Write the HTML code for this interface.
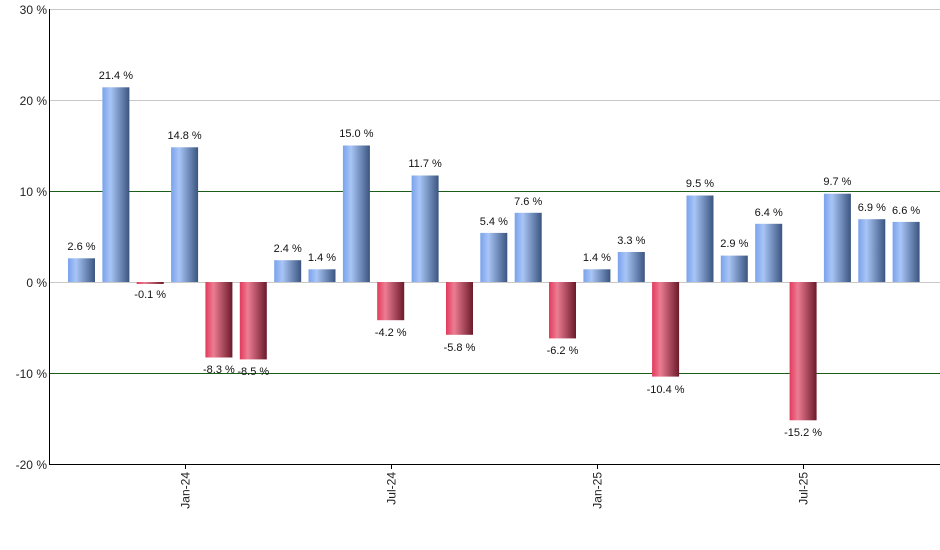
<!DOCTYPE html>
<html><head><style>body{margin:0;background:#fff}svg{display:block;font-family:"Liberation Sans",sans-serif}</style></head><body>
<svg width="940" height="550" viewBox="0 0 940 550" xmlns="http://www.w3.org/2000/svg">
<defs>
<linearGradient id="b" x1="0" x2="1" y1="0" y2="0"><stop offset="0" stop-color="#7aa2ec"/><stop offset="0.3" stop-color="#a8c5f6"/><stop offset="1" stop-color="#3b5580"/></linearGradient>
<linearGradient id="r" x1="0" x2="1" y1="0" y2="0"><stop offset="0" stop-color="#e23a5c"/><stop offset="0.3" stop-color="#ec7d93"/><stop offset="1" stop-color="#6b1a2a"/></linearGradient>
</defs>
<g stroke-width="1">
<line x1="49" x2="940" y1="9.5" y2="9.5" stroke="#c8c8c8"/>
<line x1="49" x2="940" y1="100.5" y2="100.5" stroke="#c8c8c8"/>
<line x1="49" x2="940" y1="191.5" y2="191.5" stroke="#1a5e1a"/>
<line x1="49" x2="940" y1="282.5" y2="282.5" stroke="#c8c8c8"/>
<line x1="49" x2="940" y1="373.5" y2="373.5" stroke="#1a5e1a"/>
</g>
<g font-size="12" fill="#222" text-anchor="end">
<text x="47" y="14">30 %</text><text x="47" y="105">20 %</text><text x="47" y="196">10 %</text><text x="47" y="287">0 %</text><text x="47" y="378">-10 %</text><text x="47" y="469">-20 %</text>
</g>
<g>
<rect x="68" y="258.3" width="27" height="23.7" fill="url(#b)"/>
<rect x="102.4" y="87.3" width="27" height="194.7" fill="url(#b)"/>
<rect x="136.7" y="282" width="27" height="2" fill="url(#r)"/>
<rect x="171.1" y="147.3" width="27" height="134.7" fill="url(#b)"/>
<rect x="205.4" y="282" width="27" height="75.5" fill="url(#r)"/>
<rect x="239.8" y="282" width="27" height="77.4" fill="url(#r)"/>
<rect x="274.2" y="260.2" width="27" height="21.8" fill="url(#b)"/>
<rect x="308.5" y="269.3" width="27" height="12.7" fill="url(#b)"/>
<rect x="342.9" y="145.5" width="27" height="136.5" fill="url(#b)"/>
<rect x="377.2" y="282" width="27" height="38.2" fill="url(#r)"/>
<rect x="411.6" y="175.5" width="27" height="106.5" fill="url(#b)"/>
<rect x="446" y="282" width="27" height="52.8" fill="url(#r)"/>
<rect x="480.3" y="232.9" width="27" height="49.1" fill="url(#b)"/>
<rect x="514.7" y="212.8" width="27" height="69.2" fill="url(#b)"/>
<rect x="549" y="282" width="27" height="56.4" fill="url(#r)"/>
<rect x="583.4" y="269.3" width="27" height="12.7" fill="url(#b)"/>
<rect x="617.8" y="252" width="27" height="30" fill="url(#b)"/>
<rect x="652.1" y="282" width="27" height="94.6" fill="url(#r)"/>
<rect x="686.5" y="195.5" width="27" height="86.5" fill="url(#b)"/>
<rect x="720.8" y="255.6" width="27" height="26.4" fill="url(#b)"/>
<rect x="755.2" y="223.8" width="27" height="58.2" fill="url(#b)"/>
<rect x="789.6" y="282" width="27" height="138.3" fill="url(#r)"/>
<rect x="823.9" y="193.7" width="27" height="88.3" fill="url(#b)"/>
<rect x="858.3" y="219.2" width="27" height="62.8" fill="url(#b)"/>
<rect x="892.6" y="221.9" width="27" height="60.1" fill="url(#b)"/>
</g>
<g font-size="11" fill="#111" text-anchor="middle">
<text x="81.5" y="250">2.6 %</text>
<text x="115.9" y="79">21.4 %</text>
<text x="150.2" y="298">-0.1 %</text>
<text x="184.6" y="139">14.8 %</text>
<text x="218.9" y="373">-8.3 %</text>
<text x="253.3" y="375">-8.5 %</text>
<text x="287.7" y="252">2.4 %</text>
<text x="322" y="261">1.4 %</text>
<text x="356.4" y="137">15.0 %</text>
<text x="390.7" y="336">-4.2 %</text>
<text x="425.1" y="167">11.7 %</text>
<text x="459.5" y="351">-5.8 %</text>
<text x="493.8" y="225">5.4 %</text>
<text x="528.2" y="205">7.6 %</text>
<text x="562.5" y="354">-6.2 %</text>
<text x="596.9" y="261">1.4 %</text>
<text x="631.3" y="244">3.3 %</text>
<text x="665.6" y="393">-10.4 %</text>
<text x="700" y="187">9.5 %</text>
<text x="734.3" y="247">2.9 %</text>
<text x="768.7" y="216">6.4 %</text>
<text x="803.1" y="436">-15.2 %</text>
<text x="837.4" y="185">9.7 %</text>
<text x="871.8" y="211">6.9 %</text>
<text x="906.1" y="214">6.6 %</text>
</g>
<line x1="49.5" x2="49.5" y1="9" y2="464" stroke="#000"/>
<line x1="49" x2="940" y1="464.5" y2="464.5" stroke="#000"/>
<g stroke="#000"><line x1="185.5" x2="185.5" y1="464" y2="469"/><line x1="391.5" x2="391.5" y1="464" y2="469"/><line x1="597.5" x2="597.5" y1="464" y2="469"/><line x1="803.5" x2="803.5" y1="464" y2="469"/></g>
<g font-size="12" fill="#222" text-anchor="end">
<text transform="translate(189.5,472) rotate(-90)">Jan-24</text>
<text transform="translate(395.5,472) rotate(-90)">Jul-24</text>
<text transform="translate(601.5,472) rotate(-90)">Jan-25</text>
<text transform="translate(807.5,472) rotate(-90)">Jul-25</text>
</g>
</svg>
</body></html>
